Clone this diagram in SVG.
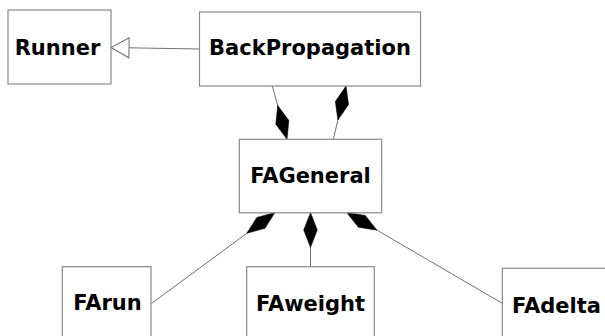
<svg xmlns="http://www.w3.org/2000/svg" width="605" height="336" viewBox="0 0 605 336">
<style>
  .box { fill: #ffffff; stroke: #8a8a8a; stroke-width: 1.2; }
  .lbl { font-family: "DejaVu Sans", "Liberation Sans", sans-serif; font-weight: bold; font-size: 21px; fill: #000000; text-anchor: middle; }
  .conn { fill: none; stroke: #707070; stroke-width: 1; }
  .comp { marker-start: url(#diamond); }
  .gen { marker-end: url(#hollowTri); }
</style>
<defs>
  <marker id="diamond" markerUnits="userSpaceOnUse" markerWidth="40" markerHeight="16" refX="0" refY="0" viewBox="0 -8 40 16" orient="auto" overflow="visible">
    <path d="M0,0 L17.5,-6.8 L35,0 L17.5,6.8 Z" fill="#000000" stroke="#000000" stroke-width="0.5"/>
  </marker>
  <marker id="hollowTri" markerUnits="userSpaceOnUse" markerWidth="22" markerHeight="22" refX="0" refY="0" viewBox="-20 -11 22 22" orient="auto" overflow="visible">
    <path d="M0,0 L-18,-10 L-18,10 Z" fill="#ffffff" stroke="#707070" stroke-width="1"/>
  </marker>
</defs>
<rect x="0" y="0" width="605" height="336" fill="#ffffff"/>
<g id="connectors">
  <path class="conn gen" d="M199.5,49 L111,47.5"/>
  <path class="conn comp" d="M287,139.3 L272.3,86"/>
  <path class="conn comp" d="M346,86 L333.3,139.3"/>
  <path class="conn comp" d="M275,212.5 L151.5,303.5"/>
  <path class="conn comp" d="M310.5,212.5 L310.5,266.7"/>
  <path class="conn comp" d="M346.7,212.5 L502.3,303.3"/>
</g>
<g id="Runner">
  <rect class="box" x="8" y="10" width="103" height="74"/>
  <text class="lbl" x="57.5" y="55">Runner</text>
</g>
<g id="BackPropagation">
  <rect class="box" x="199.5" y="12" width="221" height="74"/>
  <text class="lbl" x="310" y="55">BackPropagation</text>
</g>
<g id="FAGeneral">
  <rect class="box" x="239.3" y="139.3" width="142.4" height="73.5"/>
  <text class="lbl" x="310.5" y="183">FAGeneral</text>
</g>
<g id="FArun">
  <rect class="box" x="62.3" y="266.7" width="88.7" height="80"/>
  <text class="lbl" x="107.5" y="310">FArun</text>
</g>
<g id="FAweight">
  <rect class="box" x="246.7" y="266.7" width="127.6" height="80"/>
  <text class="lbl" x="310.5" y="311">FAweight</text>
</g>
<g id="FAdelta">
  <rect class="box" x="502.3" y="268.3" width="120" height="80"/>
  <text class="lbl" x="556.5" y="313">FAdelta</text>
</g>
</svg>
